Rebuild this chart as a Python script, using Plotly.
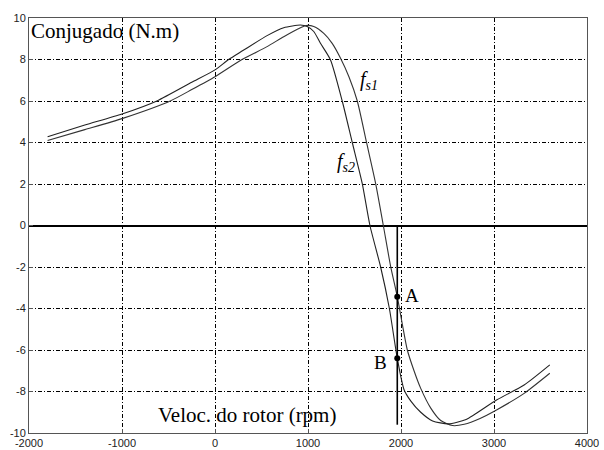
import plotly.graph_objects as go

# Data
fs1_speed = [-1800, -1400, -1000, -481, -250, 0, 290, 560, 739, 919, 980, 1062, 1170, 1260, 1350,
             1440, 1530, 1630, 1727, 1810, 1889, 1960, 2068, 2140, 2212, 2320, 2427, 2553, 2680,
             2850, 3027, 3324, 3600]
fs1_torque = [4.1, 4.62, 5.15, 6.0, 6.55, 7.17, 8.0, 8.62, 9.1, 9.53, 9.64, 9.59, 9.26, 8.78, 8.06,
              7.17, 6.0, 3.99, 2.03, 0.0, -1.98, -3.43, -6.0, -7.0, -7.85, -8.8, -9.4, -9.64, -9.58,
              -9.3, -8.89, -8.09, -7.12]

fs2_speed = [-1800, -1400, -1000, -625, -250, 0, 147, 300, 560, 739, 919, 991, 1062, 1134, 1242,
             1368, 1476, 1583, 1666, 1781, 1875, 1960, 2032, 2104, 2212, 2340, 2510, 2700, 3027,
             3324, 3600]
fs2_torque = [4.28, 4.84, 5.37, 6.0, 6.9, 7.5, 8.0, 8.43, 9.15, 9.53, 9.66, 9.59, 9.35, 8.78, 7.98,
              6.0, 4.0, 2.03, 0.0, -2.0, -4.0, -6.4, -7.9, -8.45, -9.0, -9.42, -9.56, -9.35, -8.41,
              -7.69, -6.72]

op_speed = [1960, 1960]
op_line_torque = [0, -9.6]
point_labels = ["A", "B"]
point_torque = [-3.43, -6.4]

x_ticks = [-2000, -1000, 0, 1000, 2000, 3000, 4000]
y_ticks = [-10, -8, -6, -4, -2, 0, 2, 4, 6, 8, 10]

fig = go.Figure()
fig.add_trace(go.Scatter(x=fs1_speed, y=fs1_torque, mode="lines",
                         line=dict(color="#333333", width=1.1, shape="spline", smoothing=0.6), showlegend=False))
fig.add_trace(go.Scatter(x=fs2_speed, y=fs2_torque, mode="lines",
                         line=dict(color="#222222", width=1.1, shape="spline", smoothing=0.6), showlegend=False))
fig.add_trace(go.Scatter(x=op_speed, y=op_line_torque, mode="lines",
                         line=dict(color="black", width=1.6), showlegend=False))
fig.add_trace(go.Scatter(x=[op_speed[0]] * len(point_torque), y=point_torque, mode="markers",
                         marker=dict(color="black", size=6), showlegend=False))

serif = "Liberation Serif, Times New Roman, serif"
annos = [
    dict(x=op_speed[0], y=point_torque[0], text=point_labels[0], xanchor="left", yanchor="middle", xshift=6, yshift=1, size=19),
    dict(x=op_speed[0], y=point_torque[1], text=point_labels[1], xanchor="right", yanchor="middle", xshift=-8, yshift=-4, size=19),
    dict(x=1651, y=7.0, text="<i>f<sub>s1</sub></i>", xanchor="center", yanchor="middle", size=20),
    dict(x=1405, y=3.05, text="<i>f<sub>s2</sub></i>", xanchor="center", yanchor="middle", size=20),
]
for a in annos:
    sz = a.pop("size")
    fig.add_annotation(showarrow=False, font=dict(family=serif, size=sz, color="black"), **a)

fig.add_annotation(xref="paper", yref="paper", x=0.0, y=0.985, yshift=7, text="Conjugado (N.m)", showarrow=False,
                   xanchor="left", yanchor="top", font=dict(family=serif, size=21, color="black"))
fig.add_annotation(xref="paper", yref="paper", x=0.227, y=0.01, text="Veloc. do rotor (rpm)", showarrow=False,
                   xanchor="left", yanchor="bottom", font=dict(family=serif, size=21, color="black"))

axis_common = dict(showgrid=True, gridcolor="black", griddash="4px,2px,1px,2px", gridwidth=1,
                   showline=True, linecolor="#555555", linewidth=1, mirror=True,
                   ticks="inside", ticklen=4, tickcolor="#555555", automargin=False,
                   tickfont=dict(family="Liberation Sans, Arial, sans-serif", size=11, color="#222222"))

fig.update_xaxes(range=[-2000, 4000], tickvals=x_ticks, ticktext=[str(v) for v in x_ticks],
                 zeroline=False, **axis_common)
fig.update_yaxes(range=[-10, 10], tickvals=y_ticks, ticktext=[str(v) for v in y_ticks],
                 zeroline=True, zerolinecolor="black", zerolinewidth=1.6, **axis_common)

fig.update_layout(width=604, height=450, margin=dict(l=29, r=17, t=18, b=17),
                  plot_bgcolor="white", paper_bgcolor="white")

fig.write_html("out.html", config={"displayModeBar": False},
               post_script="document.body.style.margin='0';document.body.style.overflow='hidden';")
